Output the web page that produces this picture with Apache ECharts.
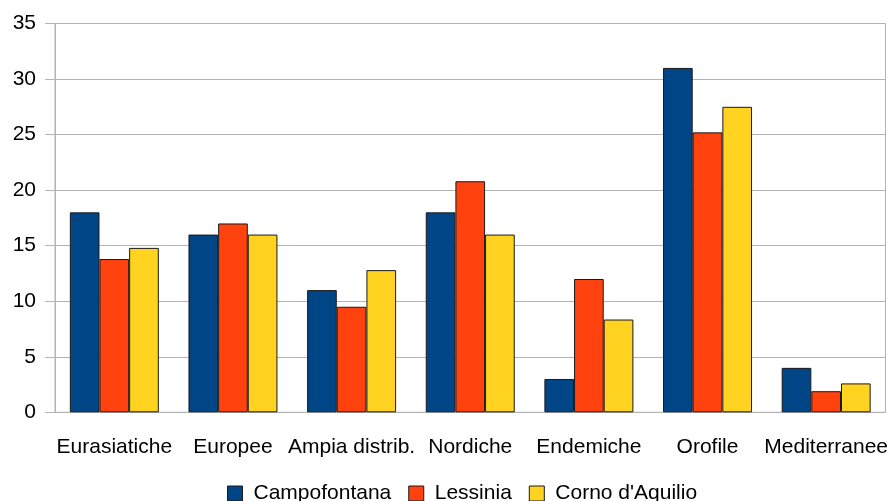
<!DOCTYPE html>
<html>
<head>
<meta charset="utf-8">
<script src="https://cdn.jsdelivr.net/npm/echarts@6/dist/echarts.min.js"></script>
<style>
  html, body { margin: 0; padding: 0; background: #fff; }
  #chart { width: 891px; height: 501px; }
</style>
</head>
<body>
<div id="chart"></div>
<script>
// Chorological spectrum: share (%) of species by distribution group, per site
const categories = ['Eurasiatiche', 'Europee', 'Ampia distrib.', 'Nordiche', 'Endemiche', 'Orofile', 'Mediterranee'];
const campofontana = [18, 16, 11, 18, 3, 31, 4];
const lessinia = [13.8, 17, 9.5, 20.8, 12, 25.2, 1.9];
const cornoAquilio = [14.8, 16, 12.8, 16, 8.35, 27.5, 2.6];
const seriesNames = ['Campofontana', 'Lessinia', "Corno d'Aquilio"];
const seriesColors = ['#004586', '#ff420e', '#ffd320'];

const FONT = '"Liberation Sans", Arial, sans-serif';
const FONT_SIZE = 21;
const GRID_COLOR = '#b3b3b3';

const chart = echarts.init(document.getElementById('chart'), null, { renderer: 'canvas' });

function barSeries(name, data, color) {
  return {
    name: name,
    type: 'bar',
    data: data,
    barGap: '0%',
    barCategoryGap: '25%',
    itemStyle: { color: color, borderColor: '#1a1a1a', borderWidth: 1 }
  };
}

chart.setOption({
  animation: false,
  textStyle: { fontFamily: FONT },
  grid: {
    left: 55, right: 5, top: 23.5, bottom: 88.7,
    show: true, borderColor: GRID_COLOR, borderWidth: 1
  },
  legend: {
    top: 483,
    left: 227,
    padding: 0,
    itemWidth: 15,
    itemHeight: 15,
    itemGap: 17,
    icon: 'rect',
    itemStyle: { borderColor: '#1a1a1a', borderWidth: 1 },
    textStyle: { fontSize: FONT_SIZE, color: '#000', fontFamily: FONT, padding: [12, 0, 0, 6] },
    data: seriesNames
  },
  xAxis: {
    type: 'category',
    data: categories,
    axisLine: { lineStyle: { color: GRID_COLOR } },
    axisTick: { alignWithLabel: true, length: 11, lineStyle: { color: GRID_COLOR } },
    axisLabel: { fontSize: FONT_SIZE, color: '#000', margin: 24, fontFamily: FONT, interval: 0 }
  },
  yAxis: {
    type: 'value',
    min: 0, max: 35, interval: 5,
    axisLine: { show: true, lineStyle: { color: GRID_COLOR } },
    axisTick: { show: true, length: 10, lineStyle: { color: GRID_COLOR } },
    splitLine: { lineStyle: { color: GRID_COLOR } },
    axisLabel: { fontSize: FONT_SIZE, color: '#000', margin: 19, fontFamily: FONT }
  },
  series: [
    barSeries(seriesNames[0], campofontana, seriesColors[0]),
    barSeries(seriesNames[1], lessinia, seriesColors[1]),
    barSeries(seriesNames[2], cornoAquilio, seriesColors[2])
  ]
});
</script>
</body>
</html>
